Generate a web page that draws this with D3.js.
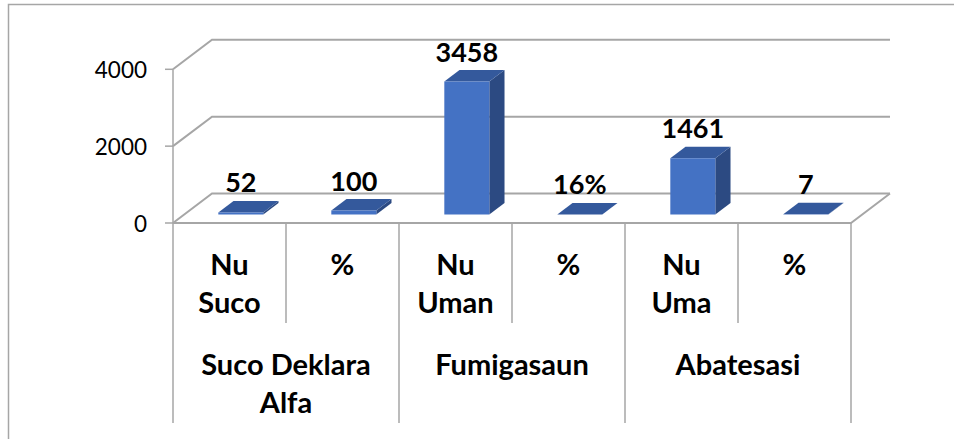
<!DOCTYPE html>
<html>
<head>
<meta charset="utf-8">
<script src="https://cdn.jsdelivr.net/npm/d3@7"></script>
<style>
  body { margin: 0; background: #fff; }
  svg { display: block; font-family: Lato, "Open Sans", sans-serif; }
</style>
</head>
<body>
<svg width="954" height="439"></svg>
<script>
const subCats = [["Nu", "Suco"], ["%"], ["Nu", "Uman"], ["%"], ["Nu", "Uma"], ["%"]];
const groups = [["Suco Deklara", "Alfa"], ["Fumigasaun"], ["Abatesasi"]];
const values = [52, 100, 3458, 0.16, 1461, 7];
const valueLabels = ["52", "100", "3458", "16%", "1461", "7"];
const yTicks = [0, 2000, 4000];

const svg = d3.select("svg");
const grid = "#a6a6a6";

// 3d box: front plane + depth offset
const left = 173, right = 851;
const depth = [39, -29.5];
const zFront = 0.29, zBack = 0.68;

const x = d3.scaleBand().domain(d3.range(values.length)).range([left, right]);
const y = d3.scaleLinear().domain([0, 4000]).range([223, 69.3]);
const barW = 45;

const P = (px, py, z) => [px + z * depth[0], py + z * depth[1]];
const poly = pts => pts.map(p => p.join(",")).join(" ");

// outer frame
svg.append("path").attr("d", "M8.5,439V4.5H954")
  .attr("fill", "none").attr("stroke", grid).attr("stroke-width", 1.5);

// gridlines: left wall diagonal + back wall line
yTicks.forEach(t => {
  const a = P(left, y(t), 0), b = P(left, y(t), 1), c = P(right, y(t), 1);
  svg.append("polyline").attr("points", poly([a, b, c]))
    .attr("fill", "none").attr("stroke", grid).attr("stroke-width", 2);
  svg.append("line").attr("x1", left - 8).attr("x2", left)
    .attr("y1", y(t)).attr("y2", y(t)).attr("stroke", grid).attr("stroke-width", 1.5);
});

// floor front and right edges
svg.append("polyline")
  .attr("points", poly([P(left, y(0), 0), P(right, y(0), 0), P(right, y(0), 1)]))
  .attr("fill", "none").attr("stroke", grid).attr("stroke-width", 2);

// value axis line
svg.append("line").attr("x1", left).attr("x2", left)
  .attr("y1", y(4000)).attr("y2", y(0)).attr("stroke", grid).attr("stroke-width", 1.5);

svg.selectAll(".ytick").data(yTicks).enter().append("text")
  .attr("x", 147).attr("y", d => y(d) + 9)
  .attr("text-anchor", "end").attr("font-size", 22.5).attr("fill", "#000")
  .text(d => d);

// bars
const bars = svg.append("g");
values.forEach((v, i) => {
  const x0 = x(i) + x.bandwidth() / 2 - barW / 2, x1 = x0 + barW;
  const yb = y(0), yt = y(v);
  const f = [P(x0, yt, zFront), P(x1, yt, zFront), P(x1, yb, zFront), P(x0, yb, zFront)];
  const side = [P(x1, yt, zFront), P(x1, yt, zBack), P(x1, yb, zBack), P(x1, yb, zFront)];
  const top = [P(x0, yt, zFront), P(x0, yt, zBack), P(x1, yt, zBack), P(x1, yt, zFront)];
  bars.append("polygon").attr("points", poly(side)).attr("fill", "#2c4a82");
  bars.append("polygon").attr("points", poly(top)).attr("fill", "#34599c");
  bars.append("polygon").attr("points", poly(f)).attr("fill", "#4472c4");
});

// data labels
svg.selectAll(".lbl").data(values).enter().append("text")
  .attr("x", (d, i) => x(i) + x.bandwidth() / 2 + zFront * depth[0])
  .attr("y", d => y(d) + zFront * depth[1] - 20)
  .attr("text-anchor", "middle").attr("font-size", 27).attr("font-weight", "bold")
  .text((d, i) => valueLabels[i]);

// category axis table
d3.range(values.length + 1).forEach(i => {
  const xx = left + i * x.bandwidth();
  svg.append("line").attr("x1", xx).attr("x2", xx)
    .attr("y1", y(0)).attr("y2", i % 2 === 0 ? 423 : 323)
    .attr("stroke", grid).attr("stroke-width", 1.5);
});

subCats.forEach((lines, i) => {
  const t = svg.append("text").attr("text-anchor", "middle")
    .attr("font-size", 29).attr("font-weight", "bold");
  lines.forEach((s, k) => t.append("tspan")
    .attr("x", x(i) + x.bandwidth() / 2).attr("y", 275 + k * 38).text(s));
});

groups.forEach((lines, g) => {
  const t = svg.append("text").attr("text-anchor", "middle")
    .attr("font-size", 29).attr("font-weight", "bold");
  lines.forEach((s, k) => t.append("tspan")
    .attr("x", x(g * 2) + x.bandwidth()).attr("y", 375 + k * 38).text(s));
});
</script>
</body>
</html>
